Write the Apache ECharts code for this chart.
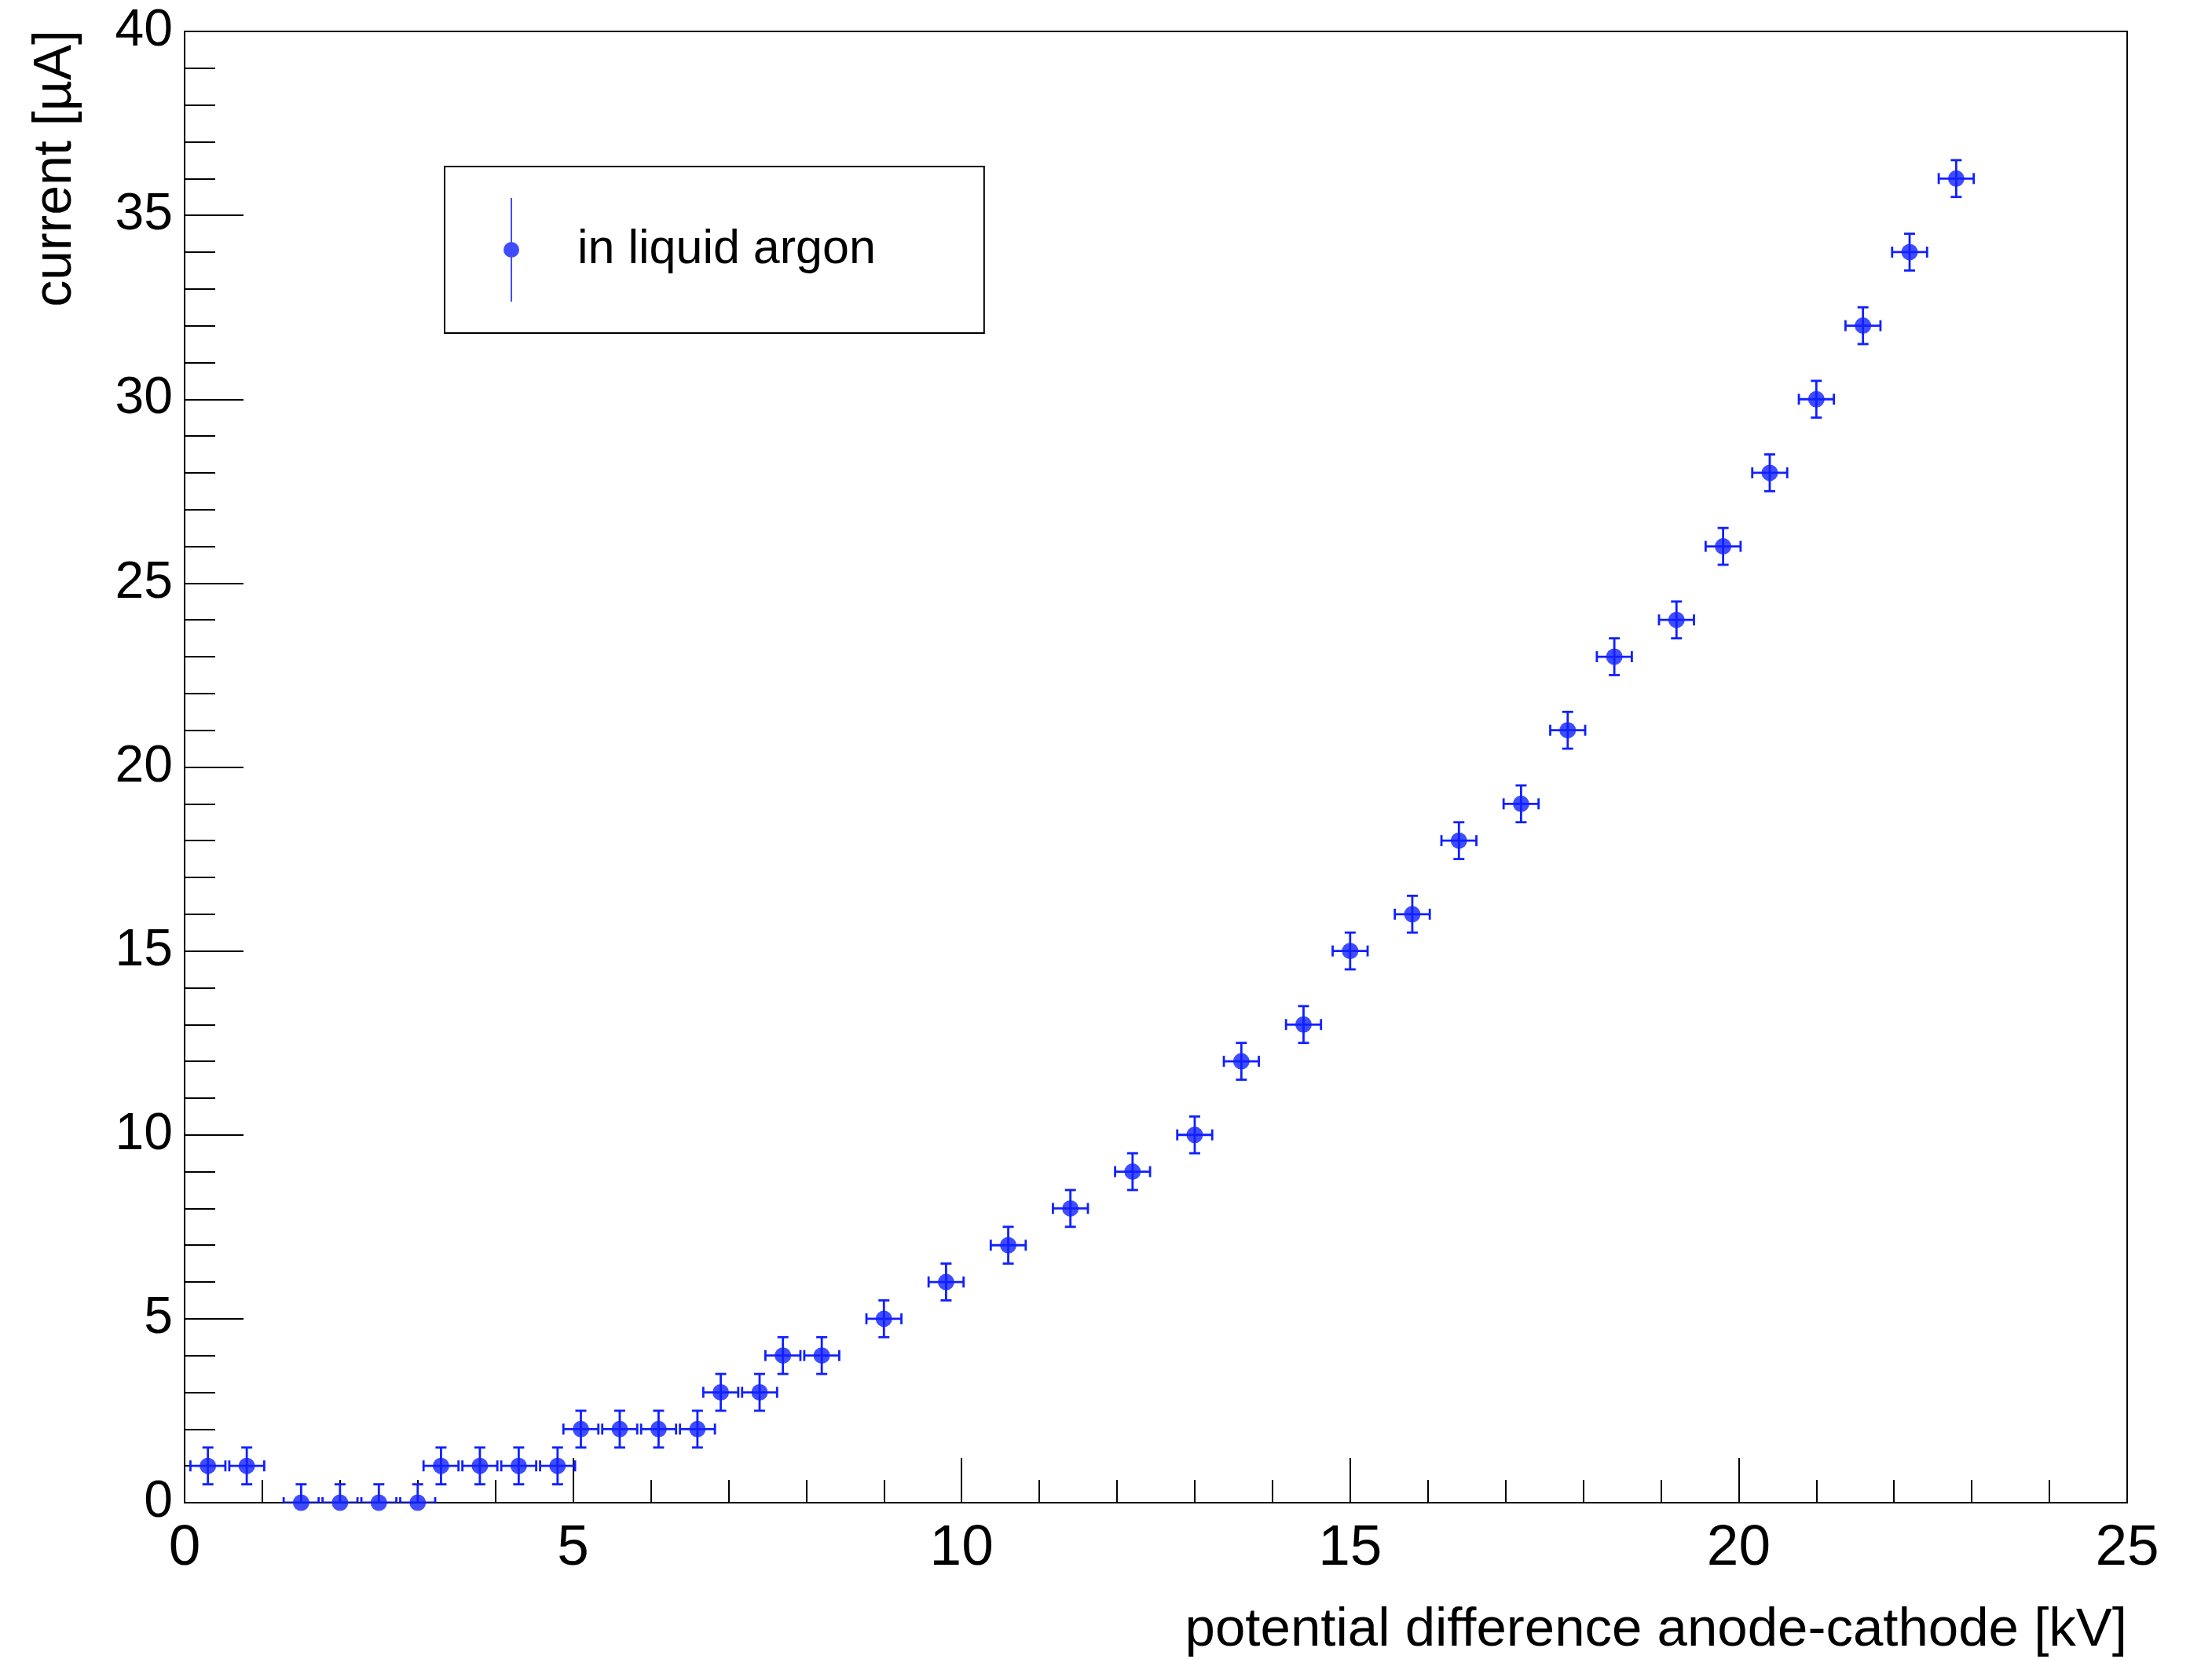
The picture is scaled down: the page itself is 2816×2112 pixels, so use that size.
<!DOCTYPE html>
<html lang="en">
<head>
    <meta charset="UTF-8">
    <title>current vs potential difference</title>
    <script src="https://cdn.jsdelivr.net/npm/echarts@6/dist/echarts.min.js"></script>
    <style>
        html, body { margin: 0; padding: 0; background: #fff; }
    </style>
</head>
<body>
    <div id="main" style="width: 2816px;height: 2112px;"></div>

    <script type="text/javascript">
        // measured points: voltage [kV] and current [uA]
        var voltage = [0.3, 0.8, 1.5, 2.0, 2.5, 3.0, 3.3, 3.8, 4.3, 4.8,
                       5.1, 5.6, 6.1, 6.6, 6.9, 7.4, 7.7, 8.2, 9.0, 9.8,
                       10.6, 11.4, 12.2, 13.0, 13.6, 14.4, 15.0, 15.8, 16.4, 17.2,
                       17.8, 18.4, 19.2, 19.8, 20.4, 21.0, 21.6, 22.2, 22.8];
        var current = [1, 1, 0, 0, 0, 0, 1, 1, 1, 1,
                       2, 2, 2, 2, 3, 3, 4, 4, 5, 6,
                       7, 8, 9, 10, 12, 13, 15, 16, 18, 19,
                       21, 23, 24, 26, 28, 30, 32, 34, 36];
        // errors (same for every point)
        var voltageErr = 0.225;
        var currentErr = 0.5;

        var xTicks = [0, 5, 10, 15, 20, 25];
        var yTicks = [0, 5, 10, 15, 20, 25, 30, 35, 40];

        var blue = '#1020ff';
        var font = '"Liberation Sans", Arial, Helvetica, sans-serif';

        var points = [];
        var bars = [];
        for (var i = 0; i < voltage.length; i++) {
            points.push([voltage[i], current[i]]);
            bars.push([voltage[i], current[i], voltageErr, currentErr]);
        }

        // draws the cross shaped error bar with end caps
        function renderErr(params, api) {
            var x = api.value(0), y = api.value(1), ex = api.value(2), ey = api.value(3);
            var l = api.coord([x - ex, y]);
            var r = api.coord([x + ex, y]);
            var t = api.coord([x, y + ey]);
            var b = api.coord([x, y - ey]);
            var cap = 7;
            var st = { stroke: blue, lineWidth: 2.8 };
            function ln(x1, y1, x2, y2) {
                return { type: 'line', shape: { x1: x1, y1: y1, x2: x2, y2: y2 }, style: st };
            }
            return {
                type: 'group',
                children: [
                    ln(l[0], l[1], r[0], r[1]),
                    ln(t[0], t[1], b[0], b[1]),
                    ln(l[0], l[1] - cap, l[0], l[1] + cap),
                    ln(r[0], r[1] - cap, r[0], r[1] + cap),
                    ln(t[0] - cap, t[1], t[0] + cap, t[1]),
                    ln(b[0] - cap, b[1], b[0] + cap, b[1])
                ]
            };
        }

        var myChart = echarts.init(document.getElementById('main'));
        var option = {
            backgroundColor: '#fff',
            animation: false,
            grid: {
                left: 235, top: 40, right: 108, bottom: 199,
                show: true, borderColor: '#000', borderWidth: 2
            },
            legend: {
                data: ['in liquid argon'],
                left: 566, top: 212,
                orient: 'vertical',
                padding: [40, 138, 40, 75],
                borderColor: '#000', borderWidth: 2,
                itemWidth: 20, itemHeight: 132,
                icon: 'path://M9,0 L11,0 L11,132 L9,132 Z M20,66 A10,10 0 1 1 0,66 A10,10 0 1 1 20,66 Z',
                textStyle: { fontSize: 61, fontFamily: font, color: '#000', padding: [0, 0, 0, 69] }
            },
            xAxis: {
                type: 'value',
                min: xTicks[0], max: xTicks[xTicks.length - 1], interval: 5,
                name: 'potential difference anode-cathode [kV]',
                nameLocation: 'end', nameGap: 0,
                nameTextStyle: { fontSize: 69, fontFamily: font, color: '#000',
                    align: 'right', verticalAlign: 'top', padding: [128, 0, 0, 0] },
                axisLine: { show: true, lineStyle: { color: '#000', width: 2 } },
                axisTick: { show: true, inside: true, length: 57, lineStyle: { color: '#000', width: 2 } },
                minorTick: { show: true, splitNumber: 5, length: 29, lineStyle: { color: '#000', width: 2 } },
                axisLabel: { fontSize: 73, fontFamily: font, color: '#000', margin: 22 },
                splitLine: { show: false }
            },
            yAxis: {
                type: 'value',
                min: yTicks[0], max: yTicks[yTicks.length - 1], interval: 5,
                name: 'current [\u00b5A]',
                nameLocation: 'end', nameGap: 2, nameRotate: 90,
                nameTextStyle: { fontSize: 68, fontFamily: font, color: '#000',
                    align: 'right', verticalAlign: 'bottom', padding: [0, 0, 130, 0] },
                axisLine: { show: true, lineStyle: { color: '#000', width: 2 } },
                axisTick: { show: true, inside: true, length: 75, lineStyle: { color: '#000', width: 2 } },
                minorTick: { show: true, splitNumber: 5, length: 39, lineStyle: { color: '#000', width: 2 } },
                axisLabel: { fontSize: 66, fontFamily: font, color: '#000', margin: 15 },
                splitLine: { show: false }
            },
            series: [{
                name: 'errors',
                type: 'custom',
                renderItem: renderErr,
                clip: true,
                encode: { x: 0, y: 1 },
                data: bars,
                z: 2
            }, {
                name: 'in liquid argon',
                type: 'scatter',
                symbol: 'circle',
                symbolSize: 21,
                itemStyle: { color: blue },
                data: points,
                z: 3
            }]
        };
        myChart.setOption(option);
    </script>
</body>
</html>
